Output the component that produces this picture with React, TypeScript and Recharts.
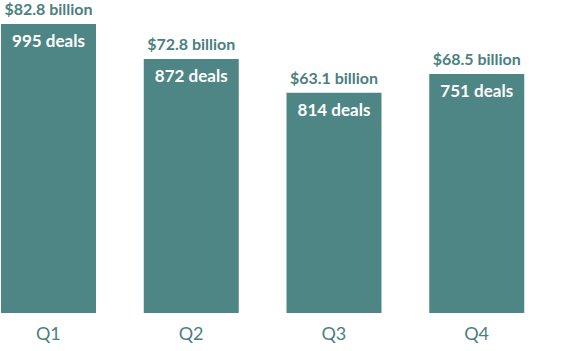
import { BarChart, Bar, XAxis, YAxis, LabelList } from "recharts";

const quarters = ["Q1", "Q2", "Q3", "Q4"];
const billions = [82.8, 72.8, 63.1, 68.5];
const deals = [995, 872, 814, 751];

const data = quarters.map((q, i) => ({
  quarter: q,
  value: billions[i],
  deals: deals[i],
}));

const TEAL = "#4e8686";
const TEXT = "#4a7f80";
const FONT = "Lato, 'Open Sans', sans-serif";

// amount above each bar
function TopLabel(props: any) {
  const { x, y, width, value } = props;
  return (
    <text
      x={x + width / 2}
      y={y - 9}
      textAnchor="middle"
      fill={TEXT}
      fontFamily={FONT}
      fontWeight={700}
      fontSize={16}
    >
      {`$${value.toFixed(1)} billion`}
    </text>
  );
}

// deal count inside the bar
function InsideLabel(props: any) {
  const { x, y, width, value } = props;
  return (
    <text
      x={x + width / 2}
      y={y + 23}
      textAnchor="middle"
      fill="#ffffff"
      fontFamily={FONT}
      fontWeight={700}
      fontSize={17}
    >
      {`${value} deals`}
    </text>
  );
}

export default function App() {
  return (
    <div style={{ width: 562, height: 351, background: "#fff" }}>
      <style>{`body{margin:0}`}</style>
      <BarChart
        width={562}
        height={351}
        data={data}
        margin={{ top: 24, right: 14, bottom: 0, left: -23 }}
        barSize={95}
      >
        <XAxis
          dataKey="quarter"
          axisLine={false}
          tickLine={false}
          height={38}
          tickMargin={8}
          tick={{ fill: TEXT, fontFamily: FONT, fontSize: 18 }}
        />
        <YAxis hide domain={[0, 82.8]} />
        <Bar dataKey="value" fill={TEAL} isAnimationActive={false}>
          <LabelList dataKey="value" content={TopLabel} />
          <LabelList dataKey="deals" content={InsideLabel} />
        </Bar>
      </BarChart>
    </div>
  );
}
